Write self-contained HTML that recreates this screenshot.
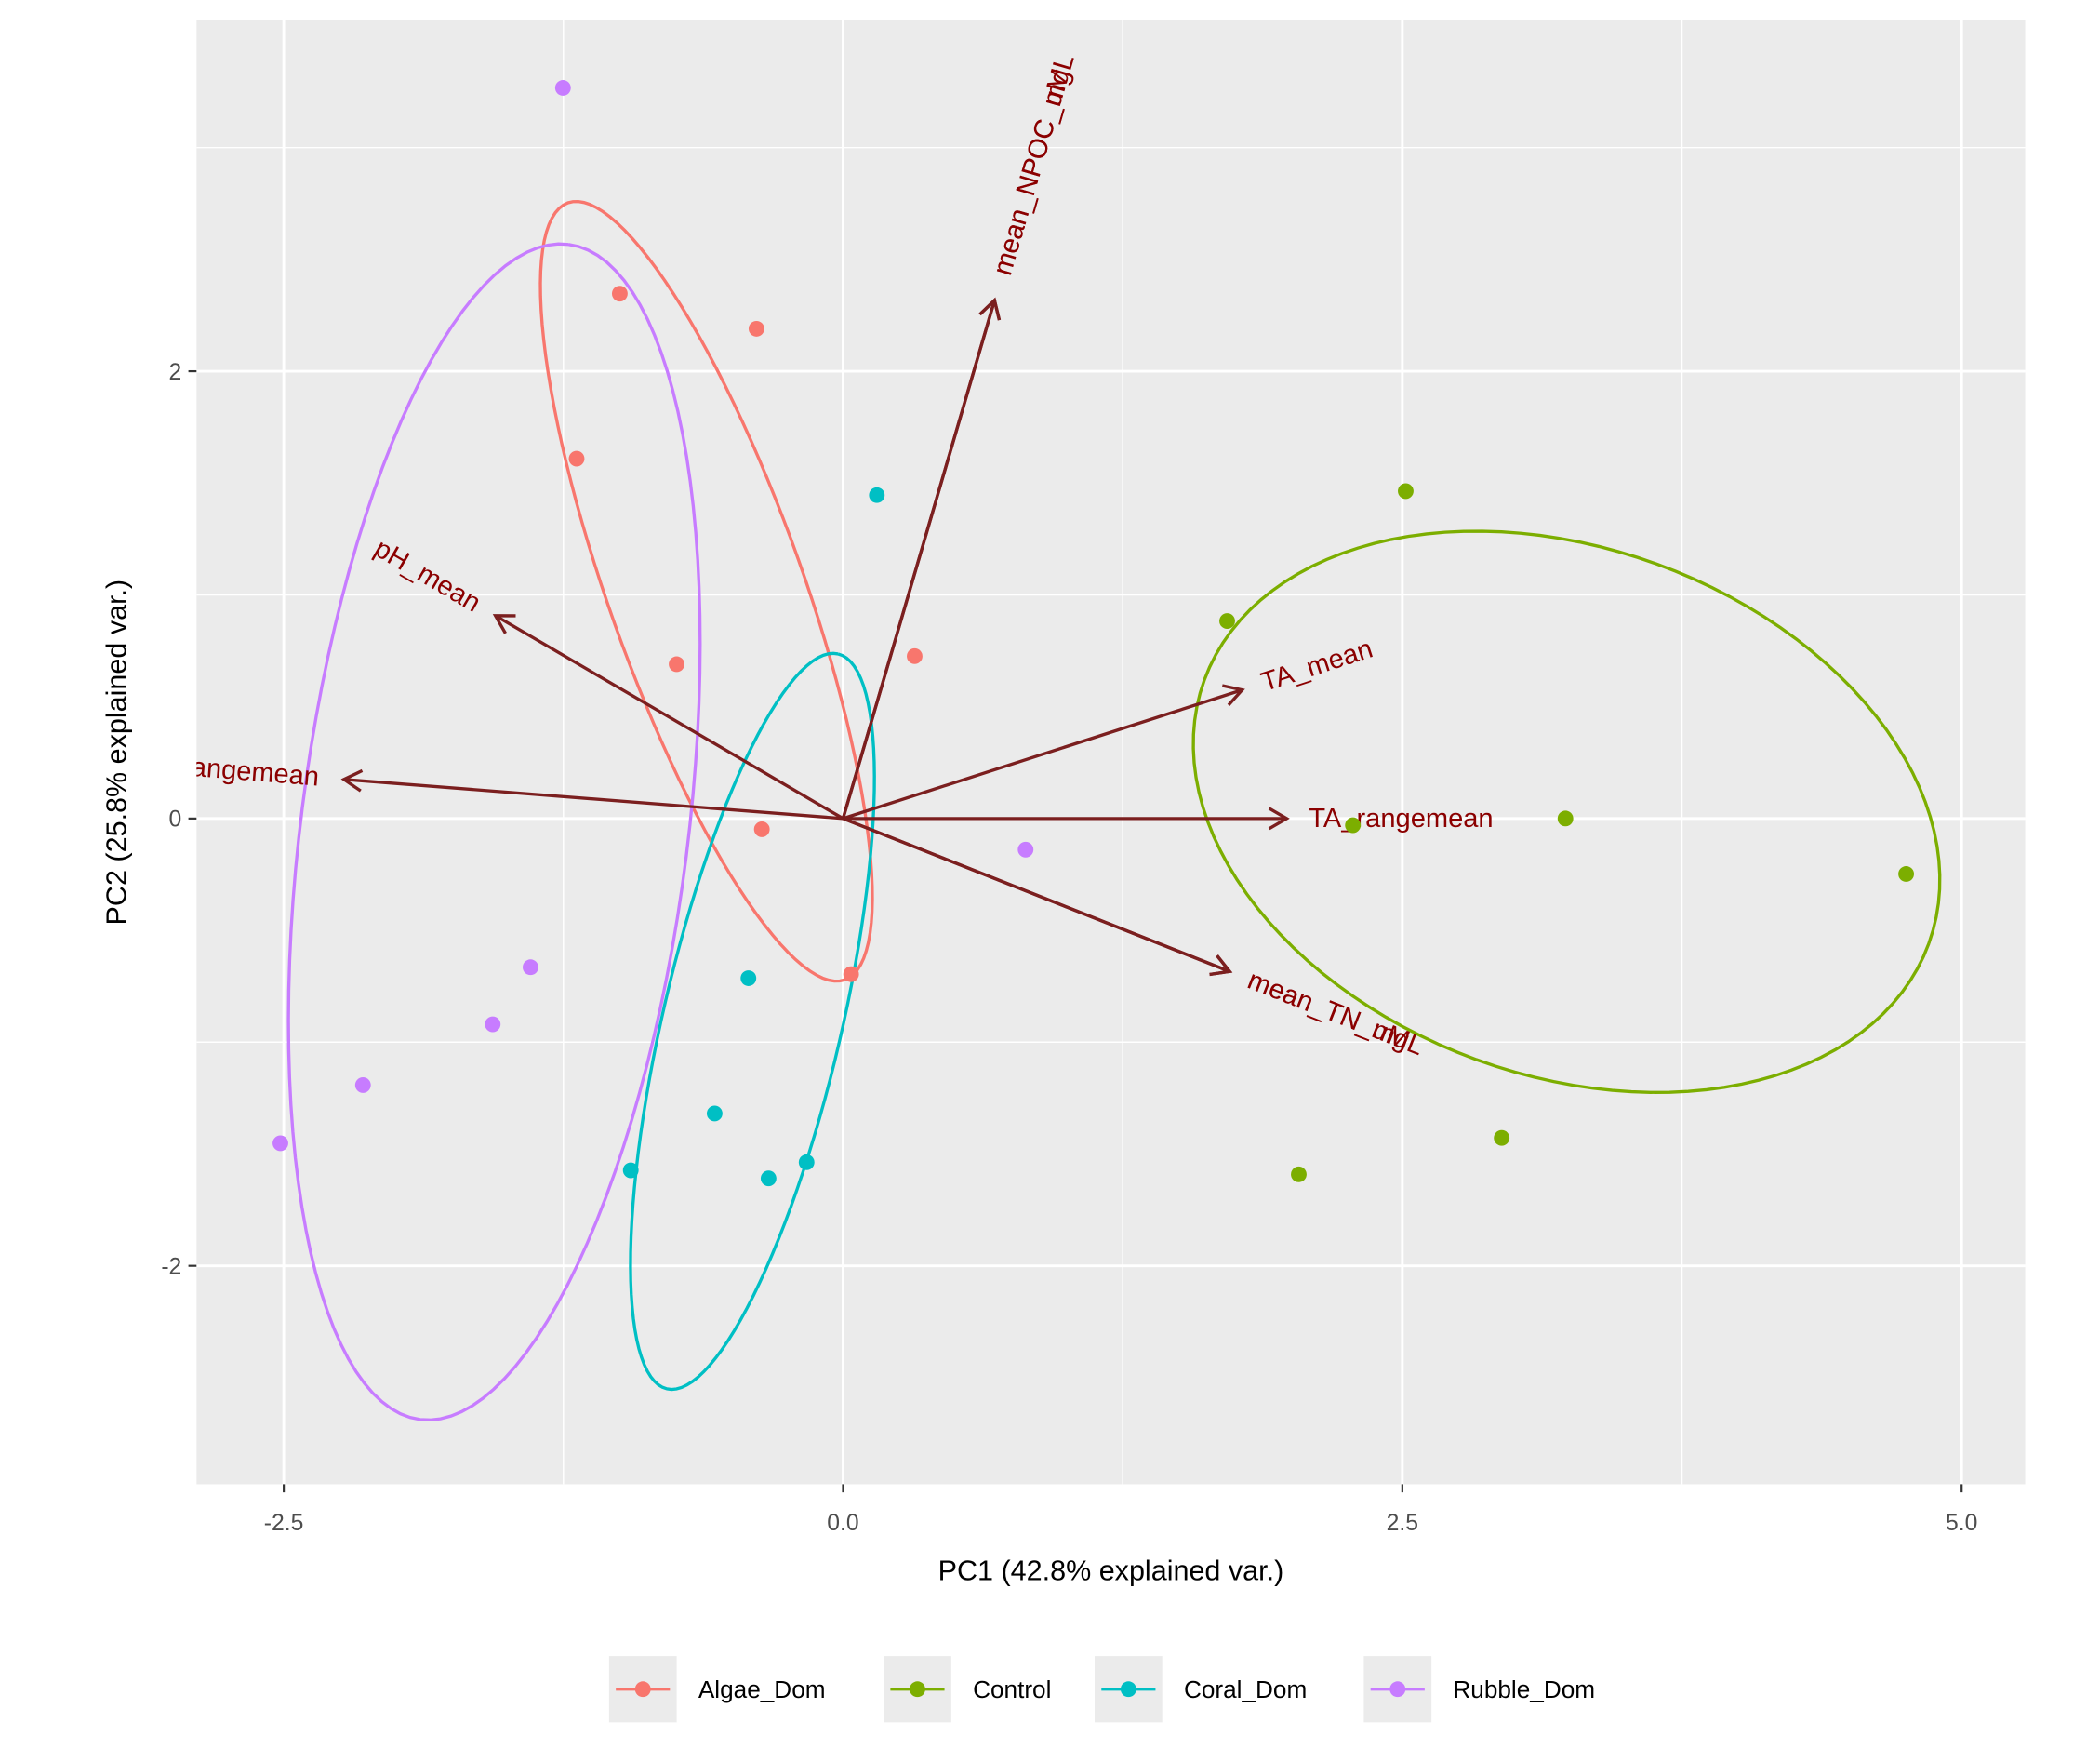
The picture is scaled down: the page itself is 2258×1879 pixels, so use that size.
<!DOCTYPE html>
<html><head><meta charset="utf-8">
<style>
html,body{margin:0;padding:0;background:#fff;}
svg{display:block;font-family:"Liberation Sans",Arial,sans-serif;}
</style></head>
<body>
<svg id="chart" width="2258" height="1879" viewBox="0 0 1552 1292" xmlns="http://www.w3.org/2000/svg">
<defs><clipPath id="pclip"><rect x="145" y="15" width="1352" height="1082"/></clipPath></defs>
<rect x="145" y="15" width="1352" height="1082" fill="#EBEBEB"/>
<g id="grid"></g>
<g id="plot" clip-path="url(#pclip)"></g>
<g id="axes"></g>
<text x="821" y="1168" font-size="21" text-anchor="middle" fill="#000">PC1 (42.8% explained var.)</text>
<text transform="translate(93,556) rotate(-90)" font-size="21" text-anchor="middle" fill="#000">PC2 (25.8% explained var.)</text>
<g id="legend"></g>
</svg>
<script>
const groups = ["Algae_Dom","Control","Coral_Dom","Rubble_Dom"];
const colors = ["#F8766D","#7CAE00","#00BFC4","#C77CFF"];
const algaeX = [-0.998,-0.387,-1.191,-0.744,0.320,-0.363,0.036];
const algaeY = [2.347,2.190,1.609,0.690,0.726,-0.048,-0.696];
const controlX = [2.515,1.717,2.279,3.229,4.752,2.944,2.037];
const controlY = [1.464,0.883,-0.030,0.000,-0.248,-1.428,-1.591];
const coralX = [0.151,-0.423,-0.574,-0.949,-0.333,-0.163];
const coralY = [1.446,-0.714,-1.319,-1.573,-1.609,-1.537];
const rubbleX = [-1.252,0.816,-1.397,-1.566,-2.146,-2.515];
const rubbleY = [3.267,-0.139,-0.665,-0.920,-1.192,-1.452];
// ellipse parameters per group (data units): centre, semi-axes, rotation (deg)
const ellCX = [-0.611, 3.234, -0.405, -1.559];
const ellCY = [1.016, 0.030, -0.907, -0.060];
const ellA = [1.844, 1.723, 1.687, 2.648];
const ellB = [0.435, 1.179, 0.399, 0.865];
const ellAngle = [-70.4, -20.0, 76.9, 82.8];
const varNames = ["mean_NPOC_mgL","mean_NPOC_uM","pH_mean","pH_rangemean","TA_mean","TA_rangemean","mean_TN_mgL","mean_TN_uM"];
const varX = [0.677,0.677,-1.554,-2.231,1.784,1.983,1.728,1.728];
const varY = [2.317,2.317,0.907,0.175,0.575,0.000,-0.684,-0.684];
const xTicks = [-2.5,0,2.5,5];
const xTickLabels = ["-2.5","0.0","2.5","5.0"];
const yTicks = [-2,0,2];
const yTickLabels = ["-2","0","2"];
const xMinor = [-1.25,1.25,3.75];
const yMinor = [-1,1,3];

const NS="http://www.w3.org/2000/svg";
const X = v => 623 + v*165.4;
const Y = v => 605 - v*165.3;
function mk(tag, attrs, parent){const e=document.createElementNS(NS,tag);for(const k in attrs)e.setAttribute(k,attrs[k]);parent.appendChild(e);return e;}
const grid=document.getElementById('grid'), plot=document.getElementById('plot'), axes=document.getElementById('axes'), legend=document.getElementById('legend');

xMinor.forEach(v=>{const l=mk('line',{x1:X(v),x2:X(v),y1:15,y2:1097,stroke:'#fff','stroke-width':1},grid);

});
yMinor.forEach(v=>{const l=mk('line',{x1:145,x2:1497,y1:Y(v),y2:Y(v),stroke:'#fff','stroke-width':1},grid);

});
xTicks.forEach((v,i)=>{const l=mk('line',{x1:X(v),x2:X(v),y1:15,y2:1097,stroke:'#fff','stroke-width':2},grid);


const t=mk('line',{x1:X(v),x2:X(v),y1:1097,y2:1103,stroke:'#333','stroke-width':1.5},axes);


const tx=mk('text',{x:X(v),y:1131,'font-size':17,'text-anchor':'middle',fill:'#4D4D4D'},axes);tx.textContent=xTickLabels[i];

});
yTicks.forEach((v,i)=>{const l=mk('line',{x1:145,x2:1497,y1:Y(v),y2:Y(v),stroke:'#fff','stroke-width':2},grid);


const t=mk('line',{x1:139,x2:145,y1:Y(v),y2:Y(v),stroke:'#333','stroke-width':1.5},axes);


const tx=mk('text',{x:134,y:Y(v)+6,'font-size':17,'text-anchor':'end',fill:'#4D4D4D'},axes);tx.textContent=yTickLabels[i];

});

const data=[[algaeX,algaeY],[controlX,controlY],[coralX,coralY],[rubbleX,rubbleY]];
groups.forEach((gname,g)=>{
  const th=ellAngle[g]*Math.PI/180;
  let pts=[];
  for(let k=0;k<=120;k++){const t=2*Math.PI*k/120;
    const u=ellA[g]*Math.cos(t), w=ellB[g]*Math.sin(t);
    const dx=ellCX[g]+u*Math.cos(th)-w*Math.sin(th), dy=ellCY[g]+u*Math.sin(th)+w*Math.cos(th);
    pts.push(X(dx).toFixed(2)+','+Y(dy).toFixed(2));}
  const p=mk('polyline',{points:pts.join(' '),fill:'none',stroke:colors[g],'stroke-width':2.3},plot);
  
  
});
varNames.forEach((nm,i)=>{
  const x2=X(varX[i]), y2=Y(varY[i]), x1=X(0), y1=Y(0);
  const l=mk('line',{x1:x1,y1:y1,x2:x2,y2:y2,stroke:'#7B1F1F','stroke-width':2.3},plot);
  
  
  const ang=Math.atan2(y2-y1,x2-x1), L=15, h=Math.PI/6;
  const hd=mk('polyline',{points:`${x2-L*Math.cos(ang-h)},${y2-L*Math.sin(ang-h)} ${x2},${y2} ${x2-L*Math.cos(ang+h)},${y2-L*Math.sin(ang+h)}`,fill:'none',stroke:'#7B1F1F','stroke-width':2.3},plot);
  
  
  const lx=X(varX[i]*1.05), ly=Y(varY[i]*1.05);
  const rot=Math.atan((y2-y1)/(x2-x1))*180/Math.PI;
  const t=mk('text',{x:lx,y:ly,'font-size':20,fill:'#8B0000','dominant-baseline':'central','text-anchor':varX[i]>=0?'start':'end',transform:`rotate(${rot} ${lx} ${ly})`},plot);
  t.textContent=nm;
  
  
});
data.forEach((d,g)=>{d[0].forEach((v,i)=>{
  const c=mk('circle',{cx:X(v),cy:Y(d[1][i]),r:5.8,fill:colors[g]},plot);
  
  
});});
const keyX=[450,653,809,1008];
groups.forEach((gname,i)=>{
  const x=keyX[i];
  const bx=mk('rect',{x:x,y:1224,width:50,height:49,fill:'#EBEBEB'},legend);
  
  
  const ln=mk('line',{x1:x+5,x2:x+45,y1:1248.5,y2:1248.5,stroke:colors[i],'stroke-width':2.3},legend);
  
  
  const c=mk('circle',{cx:x+25,cy:1248.5,r:5.8,fill:colors[i]},legend);
  
  
  const t=mk('text',{x:x+66,y:1255,'font-size':18,fill:'#000'},legend);t.textContent=gname;
  
  
});
</script>
</body></html>
